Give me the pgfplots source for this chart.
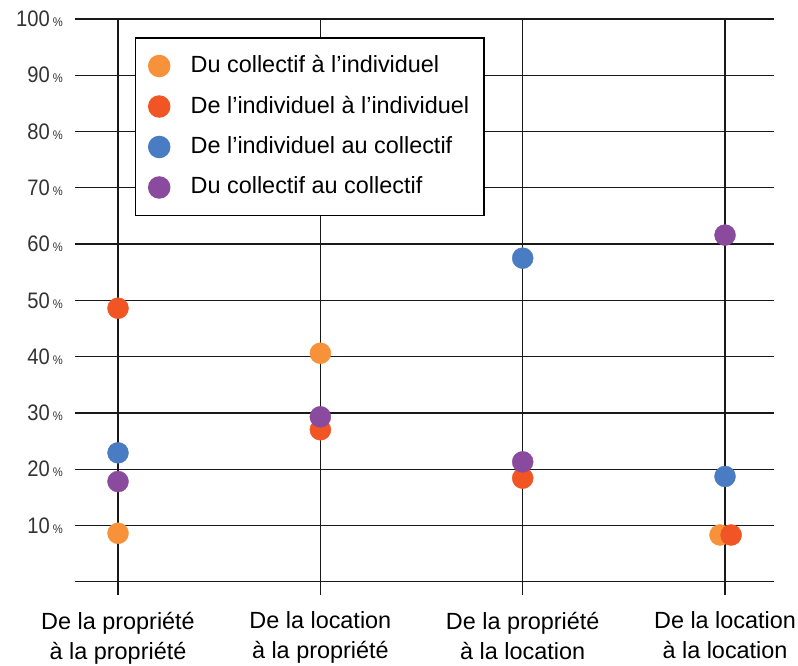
\documentclass[border=0pt]{standalone}
\usepackage{fontspec}
\setmainfont{Liberation Sans}
\newfontfamily\yfont{Liberation Sans}[FakeStretch=0.9]
\usepackage{pgfplots}
\pgfplotsset{compat=1.18}
\definecolor{corange}{HTML}{F7923A}
\definecolor{cred}{HTML}{F05523}
\definecolor{cblue}{HTML}{4A7CC4}
\definecolor{cpurple}{HTML}{8A4B9F}
% percent label: digits with a smaller % sign
\newcommand{\pct}[1]{#1\hspace{3bp}{\fontsize{12.5}{12}\selectfont\%}}
\begin{document}
\begin{tikzpicture}
\begin{axis}[
  scale only axis,
  width=699bp, height=562.7bp,
  xmin=-0.2126, xmax=3.242,
  ymin=0, ymax=100,
  clip=false,
  axis line style={draw=none},
  xtick={0,1,2,3},
  xticklabels={{De la propriété\\à la propriété},{De la location\\à la propriété},
    {De la propriété\\à la location},{De la location\\à la location}},
  xticklabel style={align=center, font=\fontsize{23.5}{30}\selectfont, inner sep=2bp, yshift=-15bp},
  ytick={0,10,...,100},
  yticklabels={,\pct{10},\pct{20},\pct{30},\pct{40},\pct{50},\pct{60},\pct{70},\pct{80},\pct{90},\pct{100}},
  yticklabel style={font=\yfont\fontsize{22.5}{23}\selectfont, inner sep=0pt, xshift=1bp, text=black!80},
  xmajorgrids, ymajorgrids,
  grid style={black!90, line width=1.3bp},
  tick align=outside,
  major tick length=13bp,
  xtick pos=bottom,
  xtick style={black!90, line width=1.3bp},
  ytick style={draw=none},
  legend style={at={(0.0858,0.9675)}, anchor=north west,
    draw=black, line width=1.5bp, inner xsep=13bp, inner ysep=15.5bp,
    font=\fontsize{23.5}{28}\selectfont, row sep=15.5bp,
    nodes={text height=17bp, text depth=4bp},
    /tikz/every odd column/.append style={column sep=19bp},
    cells={anchor=west}},
  legend image code/.code={\draw[#1] plot coordinates {(11bp,0bp)};},
]
\addplot[only marks, mark=*, mark size=10.5bp, color=corange, mark options={draw=none, fill=corange}]
  coordinates {(0,8.6) (1,40.6) (2.975,8.3)};
\addlegendentry{Du collectif à l’individuel}
\addplot[only marks, mark=*, mark size=10.5bp, color=cred, mark options={draw=none, fill=cred}]
  coordinates {(0,48.6) (1,27.0) (2,18.4) (3.03,8.3)};
\addlegendentry{De l’individuel à l’individuel}
\addplot[only marks, mark=*, mark size=10.5bp, color=cblue, mark options={draw=none, fill=cblue}]
  coordinates {(0,22.9) (2,57.5) (3,18.7)};
\addlegendentry{De l’individuel au collectif}
\addplot[only marks, mark=*, mark size=10.5bp, color=cpurple, mark options={draw=none, fill=cpurple}]
  coordinates {(0,17.8) (1,29.3) (2,21.3) (3,61.6)};
\addlegendentry{Du collectif au collectif}
\end{axis}
\pgfresetboundingbox
\path[use as bounding box] (-75bp,-84.3bp) rectangle (723bp,581.7bp);
\end{tikzpicture}
\end{document}
